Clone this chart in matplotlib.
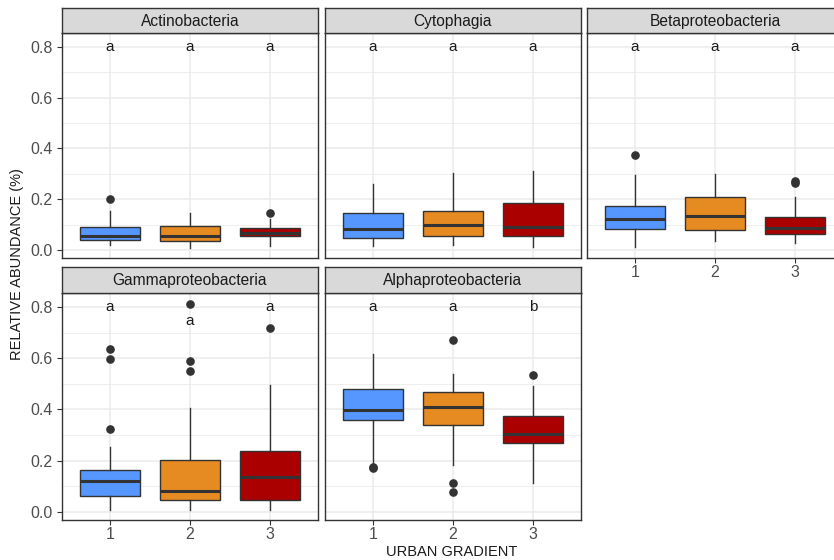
import matplotlib
matplotlib.use("Agg")
import matplotlib.pyplot as plt

plt.rcParams['font.family'] = ['Liberation Sans', 'DejaVu Sans']

taxa = ["Actinobacteria", "Cytophagia", "Betaproteobacteria",
        "Gammaproteobacteria", "Alphaproteobacteria"]
groups = [1, 2, 3]
colors = ["#5596FF", "#E68A22", "#AA0000"]

# box statistics, per taxon, per urban gradient level
q1 = [[0.038, 0.035, 0.055], [0.047, 0.054, 0.054], [0.082, 0.080, 0.062],
      [0.060, 0.047, 0.047], [0.359, 0.338, 0.268]]
med = [[0.055, 0.055, 0.067], [0.081, 0.099, 0.091], [0.122, 0.135, 0.086],
       [0.121, 0.080, 0.136], [0.397, 0.410, 0.303]]
q3 = [[0.089, 0.094, 0.087], [0.146, 0.154, 0.185], [0.174, 0.207, 0.128],
      [0.162, 0.204, 0.239], [0.478, 0.467, 0.373]]
wlo = [[0.021, 0.007, 0.015], [0.015, 0.021, 0.011], [0.011, 0.034, 0.027],
       [0.009, 0.009, 0.009], [0.179, 0.182, 0.114]]
whi = [[0.154, 0.144, 0.122], [0.261, 0.303, 0.312], [0.294, 0.298, 0.209],
       [0.254, 0.405, 0.495], [0.618, 0.538, 0.493]]
outliers = [[[0.200], [], [0.146]],
            [[], [], []],
            [[0.374], [], [0.265, 0.270]],
            [[0.324, 0.596, 0.636], [0.552, 0.591, 0.812], [0.719]],
            [[0.171, 0.177], [0.673, 0.114, 0.078], [0.535]]]
letters = [["a", "a", "a"], ["a", "a", "a"], ["a", "a", "a"],
           ["a", "a", "a"], ["a", "a", "b"]]
letter_y = [[0.8, 0.8, 0.8], [0.8, 0.8, 0.8], [0.8, 0.8, 0.8],
            [0.8, 0.745, 0.8], [0.8, 0.8, 0.8]]

W, H = 834, 560
fig = plt.figure(figsize=(W / 100, H / 100), dpi=100)

col_left = [62, 325, 587]
panel_w = 256
rows = [(33, 258, 8), (293, 520, 267)]  # panel top, panel bottom, strip top
dark = "#333333"

for i, name in enumerate(taxa):
    r, c = divmod(i, 3)
    top, bot, stop = rows[r]
    ax = fig.add_axes([col_left[c] / W, 1 - bot / H, panel_w / W, (bot - top) / H])
    sax = fig.add_axes([col_left[c] / W, 1 - top / H, panel_w / W, (top - stop) / H])
    sax.set_facecolor("#D9D9D9")
    sax.set_xticks([]); sax.set_yticks([])
    for s in sax.spines.values():
        s.set_color(dark); s.set_linewidth(1.0)
    sax.text(0.5, 0.47, name, ha="center", va="center", fontsize=11.2, color="#1A1A1A")

    stats = []
    for j in range(3):
        stats.append(dict(med=med[i][j], q1=q1[i][j], q3=q3[i][j],
                          whislo=wlo[i][j], whishi=whi[i][j], fliers=outliers[i][j]))
    bp = ax.bxp(stats, positions=groups, widths=0.75, patch_artist=True, showcaps=False,
                boxprops=dict(edgecolor=dark, linewidth=1.0),
                medianprops=dict(color=dark, linewidth=2.2),
                whiskerprops=dict(color=dark, linewidth=1.0),
                flierprops=dict(marker="o", markerfacecolor=dark, markeredgecolor=dark,
                                markersize=5.2))
    for patch, col in zip(bp["boxes"], colors):
        patch.set_facecolor(col)
    for j in range(3):
        ax.text(groups[j], letter_y[i][j], letters[i][j], ha="center", va="center",
                fontsize=11, color="#1A1A1A")

    ax.set_xlim(0.4, 3.6)
    ax.set_ylim(-0.032, 0.855)
    ax.set_yticks([0.0, 0.2, 0.4, 0.6, 0.8])
    ax.set_yticks([0.1, 0.3, 0.5, 0.7], minor=True)
    ax.set_xticks(groups)
    ax.grid(True, which="major", color="#EBEBEB", linewidth=1.1)
    ax.grid(True, which="minor", axis="y", color="#EBEBEB", linewidth=0.6)
    ax.set_axisbelow(True)
    for s in ax.spines.values():
        s.set_color(dark); s.set_linewidth(1.0)
    ax.tick_params(axis="both", which="major", colors=dark, labelcolor="#4D4D4D",
                   labelsize=11.5, length=3.5, width=0.8)
    ax.tick_params(axis="x", pad=1.5)
    ax.tick_params(axis="y", which="minor", length=0)
    ax.set_xticklabels([str(g) for g in groups])
    if c != 0:
        ax.tick_params(axis="y", left=False, labelleft=False)
    if r == 0 and c < 2:
        ax.tick_params(axis="x", bottom=False, labelbottom=False)

fig.text(452 / W, 1 - 552 / H, "URBAN GRADIENT", ha="center", va="center",
         fontsize=10.5, color="#1A1A1A")
fig.text(17 / W, 1 - 264 / H, "RELATIVE ABUNDANCE (%)", ha="center", va="center",
         rotation=90, fontsize=10.5, color="#1A1A1A")

fig.savefig("out.png", dpi=100)
